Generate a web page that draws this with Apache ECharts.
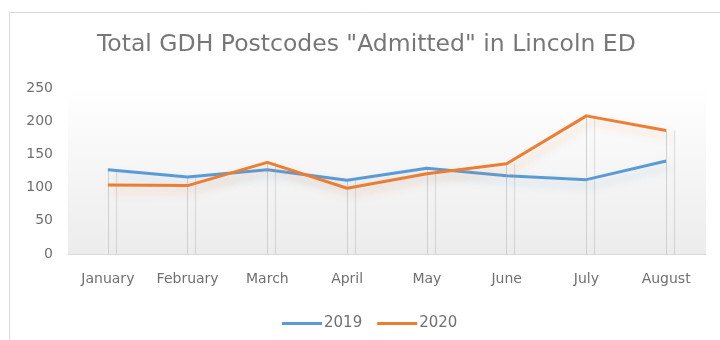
<!DOCTYPE html>
<html>
<head>
<meta charset="utf-8">
<script src="https://cdn.jsdelivr.net/npm/echarts@6/dist/echarts.min.js"></script>
<style>
  html, body { margin: 0; padding: 0; background: #fff; }
  #chart { width: 720px; height: 340px; }
</style>
</head>
<body>
<div id="chart"></div>
<script>
// Monthly admitted counts by year
const months = ['January', 'February', 'March', 'April', 'May', 'June', 'July', 'August'];
const admitted2019 = [127, 116, 127, 111, 129, 118, 112, 140];
const admitted2020 = [104, 103, 138, 99, 121, 136, 208, 186];
const yTicks = { min: 0, max: 250, interval: 50 };

const FONT = '"DejaVu Sans", sans-serif';
const TEXT = '#707070';

// Vertical drop lines from the higher of the two points down to the axis
const dropLines = months.map((m, i) => [
  { coord: [i, 0] },
  { coord: [i, Math.max(admitted2019[i], admitted2020[i])] }
]);

const chart = echarts.init(document.getElementById('chart'), null, { renderer: 'canvas' });

chart.setOption({
  animation: false,
  backgroundColor: '#fff',
  textStyle: { fontFamily: FONT },
  graphic: [{
    type: 'rect',
    shape: { x: 9.5, y: 12.5, width: 760, height: 400 },
    style: { fill: 'none', stroke: '#d9d9d9', lineWidth: 1 },
    silent: true,
    z: -10
  }],
  title: {
    text: 'Total GDH Postcodes "Admitted" in Lincoln ED',
    left: 97,
    top: 33,
    padding: 0,
    textStyle: { fontFamily: FONT, fontSize: 23.5, fontWeight: 'normal', color: '#777777' }
  },
  legend: {
    bottom: 9,
    left: 282,
    padding: 0,
    itemWidth: 40,
    itemHeight: 3,
    itemGap: 15,
    icon: 'rect',
    textStyle: { fontFamily: FONT, fontSize: 15, color: TEXT, padding: [0, 0, 0, -3] },
    data: ['2019', '2020']
  },
  grid: {
    left: 68, right: 14, top: 88, bottom: 86,
    show: true,
    borderWidth: 0,
    backgroundColor: new echarts.graphic.LinearGradient(0, 0, 0, 1, [
      { offset: 0, color: '#ffffff' },
      { offset: 1, color: '#ececec' }
    ])
  },
  xAxis: {
    type: 'category',
    data: months,
    boundaryGap: true,
    axisLine: { lineStyle: { color: '#d9d9d9', width: 1 } },
    axisTick: { show: false },
    axisLabel: { color: TEXT, fontSize: 14, margin: 18, fontFamily: FONT, interval: 0 }
  },
  yAxis: {
    type: 'value',
    min: yTicks.min,
    max: yTicks.max,
    interval: yTicks.interval,
    axisLine: { show: false },
    axisTick: { show: false },
    splitLine: { show: false },
    axisLabel: { color: TEXT, fontSize: 14, margin: 15, fontFamily: FONT }
  },
  series: [
    {
      name: '2019',
      type: 'line',
      data: admitted2019,
      symbol: 'none',
      color: '#5b9bd5',
      lineStyle: {
        width: 3, color: '#5b9bd5',
        shadowColor: 'rgba(91,155,213,0.25)', shadowBlur: 8, shadowOffsetX: 4, shadowOffsetY: 6
      },
      z: 3,
      markLine: {
        silent: true,
        symbol: 'none',
        label: { show: false },
        lineStyle: {
          type: 'solid', color: '#d0d0d0', width: 1,
          shadowColor: 'rgba(0,0,0,0.12)', shadowBlur: 1, shadowOffsetX: 8
        },
        data: dropLines,
        z: 1
      }
    },
    {
      name: '2020',
      type: 'line',
      data: admitted2020,
      symbol: 'none',
      color: '#ed7d31',
      lineStyle: {
        width: 3, color: '#ed7d31',
        shadowColor: 'rgba(237,125,49,0.25)', shadowBlur: 8, shadowOffsetX: 4, shadowOffsetY: 6
      },
      z: 4
    }
  ]
});
</script>
</body>
</html>
